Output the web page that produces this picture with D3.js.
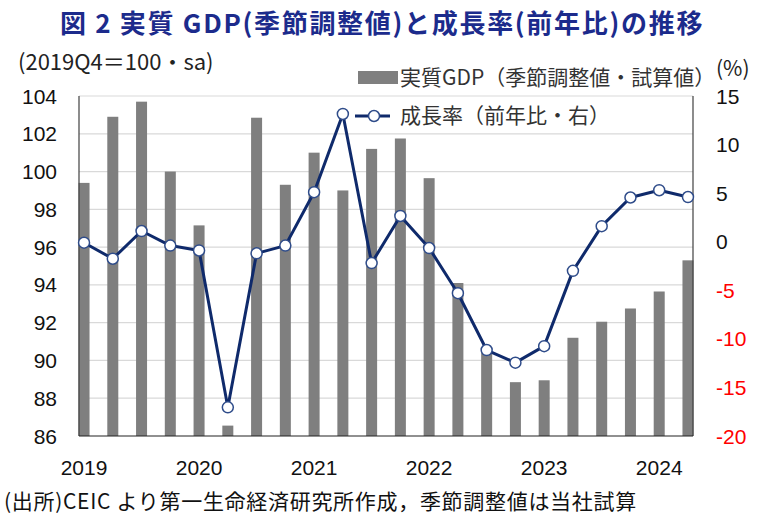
<!DOCTYPE html>
<html>
<head>
<meta charset="utf-8">
<script src="https://cdn.jsdelivr.net/npm/d3@7"></script>
<style>
  body { margin: 0; background: #fff; }
  text { font-family: "Liberation Sans", Arial, sans-serif; }
  .jp { font-family: "Noto Sans CJK JP", sans-serif; }
</style>
</head>
<body>
<svg width="763" height="521"></svg>
<script>
// quarters 2019Q1 - 2024Q2
var quarters = ["2019Q1","2019Q2","2019Q3","2019Q4","2020Q1","2020Q2","2020Q3","2020Q4",
  "2021Q1","2021Q2","2021Q3","2021Q4","2022Q1","2022Q2","2022Q3","2022Q4",
  "2023Q1","2023Q2","2023Q3","2023Q4","2024Q1","2024Q2"];

// real GDP, seasonally adjusted (2019Q4 = 100), left axis
var gdp = [99.4, 102.9, 103.7, 100.0, 97.15, 86.55, 102.85, 99.3,
  101.0, 99.0, 101.2, 101.75, 99.65, 94.1, 90.55, 88.85,
  88.95, 91.2, 92.05, 92.75, 93.65, 95.3];

// growth rate, year on year (%), right axis
var growth = [-0.1, -1.75, 1.1, -0.4, -0.9, -17.05, -1.2, -0.4,
  5.1, 13.15, -2.2, 2.65, -0.65, -5.3, -11.15, -12.45,
  -10.75, -3.0, 1.6, 4.55, 5.3, 4.6];

var leftTicks = [86, 88, 90, 92, 94, 96, 98, 100, 102, 104];
var rightTicks = [-20, -15, -10, -5, 0, 5, 10, 15];
var yearLabels = ["2019", "2020", "2021", "2022", "2023", "2024"];

var svg = d3.select("svg");
var plotL = 79, plotR = 693, plotT = 96, plotB = 436;

var x = d3.scalePoint().domain(quarters).range([plotL, plotR]).padding(0.175);
var yL = d3.scaleLinear().domain([86, 104]).range([plotB, plotT]);
var yR = d3.scaleLinear().domain([-20, 15]).range([plotB, plotT]);

// title
svg.append("text").attr("class", "jp")
  .attr("x", 382).attr("y", 33)
  .attr("text-anchor", "middle")
  .attr("font-size", 26).attr("font-weight", "bold")
  .attr("letter-spacing", 1.7)
  .attr("fill", "#1c2b8c")
  .text("図 2  実質 GDP(季節調整値)と成長率(前年比)の推移");

svg.append("text").attr("class", "jp")
  .attr("x", 18).attr("y", 70)
  .attr("font-size", 22).attr("fill", "#222")
  .text("(2019Q4＝100・sa)");

svg.append("text").attr("class", "jp")
  .attr("x", 716).attr("y", 76)
  .attr("font-size", 21).attr("fill", "#222")
  .text("(%)");

// gridlines
svg.append("g").selectAll("line").data(leftTicks.slice(1)).enter()
  .append("line")
  .attr("x1", plotL).attr("x2", plotR)
  .attr("y1", function(d){ return yL(d); })
  .attr("y2", function(d){ return yL(d); })
  .attr("stroke", "#d9d9d9").attr("stroke-width", 1.2);

// bars
svg.append("g").selectAll("rect").data(gdp).enter()
  .append("rect")
  .attr("x", function(d, i){ return x(quarters[i]) - 5.5; })
  .attr("width", 11)
  .attr("y", function(d){ return yL(d); })
  .attr("height", function(d){ return plotB - yL(d); })
  .attr("fill", "#7f7f7f");

// axis lines
svg.append("line").attr("x1", plotL).attr("x2", plotL).attr("y1", plotT).attr("y2", plotB)
  .attr("stroke", "#404040").attr("stroke-width", 1.2);
svg.append("line").attr("x1", plotR).attr("x2", plotR).attr("y1", plotT).attr("y2", plotB)
  .attr("stroke", "#404040").attr("stroke-width", 1.2);
svg.append("line").attr("x1", plotL).attr("x2", plotR).attr("y1", plotB).attr("y2", plotB)
  .attr("stroke", "#222").attr("stroke-width", 1.2);

// growth line
var line = d3.line()
  .x(function(d, i){ return x(quarters[i]); })
  .y(function(d){ return yR(d); });

svg.append("path").datum(growth)
  .attr("d", line)
  .attr("fill", "none")
  .attr("stroke", "#0f2a6b")
  .attr("stroke-width", 3)
  .attr("stroke-linejoin", "round");

svg.append("g").selectAll("circle").data(growth).enter()
  .append("circle")
  .attr("cx", function(d, i){ return x(quarters[i]); })
  .attr("cy", function(d){ return yR(d); })
  .attr("r", 5.5)
  .attr("fill", "#fff")
  .attr("stroke", "#2f4c8a")
  .attr("stroke-width", 1.5);

// left tick labels
svg.append("g").selectAll("text").data(leftTicks).enter()
  .append("text")
  .attr("x", 57)
  .attr("y", function(d){ return yL(d); })
  .attr("dy", "0.36em")
  .attr("text-anchor", "end")
  .attr("font-size", 21)
  .attr("fill", "#111")
  .text(function(d){ return d; });

// right tick labels
svg.append("g").selectAll("text").data(rightTicks).enter()
  .append("text")
  .attr("x", 716)
  .attr("y", function(d){ return yR(d); })
  .attr("dy", "0.36em")
  .attr("font-size", 21)
  .attr("fill", function(d){ return d < 0 ? "#ff0000" : "#111"; })
  .text(function(d){ return d; });

// year labels at Q1
svg.append("g").selectAll("text").data(yearLabels).enter()
  .append("text")
  .attr("x", function(d){ return x(d + "Q1"); })
  .attr("y", 467)
  .attr("dy", "0.36em")
  .attr("text-anchor", "middle")
  .attr("font-size", 21)
  .attr("fill", "#111")
  .text(function(d){ return d; });

// legend
svg.append("rect").attr("x", 358).attr("y", 71).attr("width", 40).attr("height", 13)
  .attr("fill", "#7f7f7f");
svg.append("text").attr("class", "jp")
  .attr("x", 400).attr("y", 85)
  .attr("font-size", 21).attr("fill", "#333")
  .text("実質GDP（季節調整値・試算値）");

svg.append("line").attr("x1", 355).attr("x2", 390).attr("y1", 116).attr("y2", 116)
  .attr("stroke", "#0f2a6b").attr("stroke-width", 3);
svg.append("circle").attr("cx", 374).attr("cy", 116).attr("r", 5.5)
  .attr("fill", "#fff").attr("stroke", "#2f4c8a").attr("stroke-width", 1.5);
svg.append("text").attr("class", "jp")
  .attr("x", 400).attr("y", 123)
  .attr("font-size", 21).attr("fill", "#333")
  .text("成長率（前年比・右）");

// source note
svg.append("text").attr("class", "jp")
  .attr("x", 4).attr("y", 509)
  .attr("font-size", 21).attr("letter-spacing", 0.7).attr("fill", "#111")
  .text("(出所)CEIC より第一生命経済研究所作成，季節調整値は当社試算");
</script>
</body>
</html>
